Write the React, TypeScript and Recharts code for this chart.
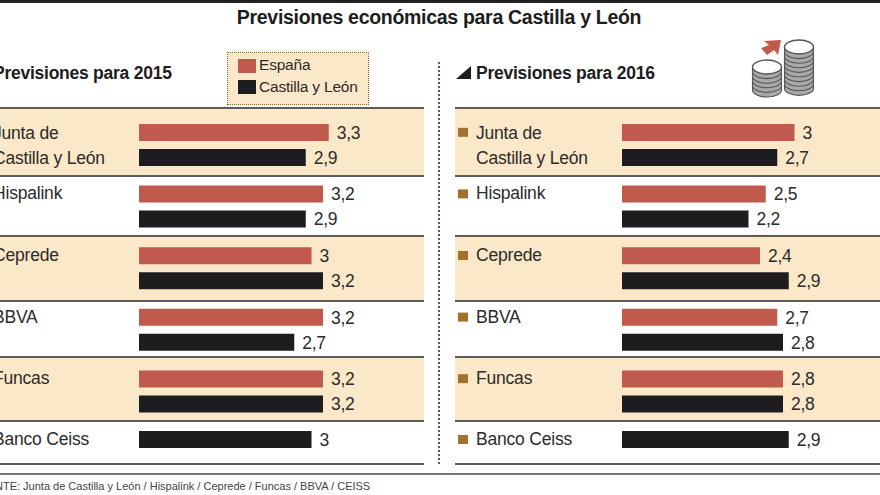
import { BarChart, Bar, XAxis, YAxis, LabelList } from "recharts";

const TITLE = "Previsiones económicas para Castilla y León";
const SOURCE = "FUENTE: Junta de Castilla y León / Hispalink / Ceprede / Funcas / BBVA / CEISS";

const institutions = ["Junta de\nCastilla y León", "Hispalink", "Ceprede", "BBVA", "Funcas"];
const lastInstitution = ["Banco Ceiss"];

const espana2015 = [3.3, 3.2, 3, 3.2, 3.2];
const castilla2015 = [2.9, 2.9, 3.2, 2.7, 3.2];
const ceiss2015 = [3];

const espana2016 = [3, 2.5, 2.4, 2.7, 2.8];
const castilla2016 = [2.7, 2.2, 2.9, 2.8, 2.8];
const ceiss2016 = [2.9];

const RED = "#BF5A4D";
const BLACK = "#1D1D20";
const CREAM = "#FBE8C8";
const INK = "#2B2B2B";
const RULE = "#5C5C5C";
const FONT = "'Liberation Sans', Arial, sans-serif";

const PX_PER_UNIT = 57.5;
const X_MAX = 5;
const PLOT_WIDTH = PX_PER_UNIT * X_MAX;
const AXIS_WIDTH = 167;

// y of the horizontal rules, first band starts at the first one
const ROW_EDGES = [108, 176, 236, 301, 357, 421, 464];

const commaFormat = (v: any) => String(v).replace(".", ",");

function RowTick({ y, payload }: any) {
  const lines = String(payload.value).split("\n");
  const isLast = payload.value === lastInstitution[0];
  const top = isLast ? y : y - 12.5;
  const baseline = lines.length > 1 ? top + 7 : top + 5.5;
  const textProps = { x: 21, fontSize: 17.5, letterSpacing: -0.2, fill: INK, fontFamily: FONT };
  return (
    <g>
      <rect x={3} y={top - 4.5} width={10} height={9} fill="#A2722C" />
      <text y={baseline} {...textProps}>
        {lines[0]}
      </text>
      {lines.length > 1 && (
        <text y={baseline + 25} {...textProps}>
          {lines[1]}
        </text>
      )}
    </g>
  );
}

function valueLabels() {
  return (
    <LabelList
      position="right"
      offset={8}
      formatter={commaFormat}
      style={{ fontSize: 17.5, letterSpacing: -0.3, fill: INK, fontFamily: FONT }}
    />
  );
}

interface PanelProps {
  left: number;
  year: string;
  espana: number[];
  castilla: number[];
  ceiss: number[];
}

function Panel({ left, year, espana, castilla, ceiss }: PanelProps) {
  const rows = institutions.map((name, i) => ({ name, espana: espana[i], castilla: castilla[i] }));
  const lastRow = lastInstitution.map((name, i) => ({ name, castilla: ceiss[i] }));
  const chartWidth = AXIS_WIDTH + PLOT_WIDTH;
  const bandWidth = 452;

  return (
    <div style={{ position: "absolute", left, top: 0, width: chartWidth, height: 495 }}>
      {ROW_EDGES.slice(0, -1).map((edge, i) =>
        i % 2 === 0 ? (
          <div
            key={edge}
            style={{ position: "absolute", left: 0, top: edge, width: bandWidth, height: ROW_EDGES[i + 1] - edge, background: CREAM }}
          />
        ) : null
      )}
      {ROW_EDGES.map((edge) => (
        <div
          key={edge}
          style={{ position: "absolute", left: 0, top: edge - 1, width: bandWidth, height: 2, background: RULE }}
        />
      ))}
      <svg style={{ position: "absolute", left: 0, top: 60 }} width={300} height={30}>
        <path d="M1 19 L16 6 L16 19 Z" fill={BLACK} />
        <text x={21} y={19} fontSize={17.5} letterSpacing={-0.25} fontWeight="bold" fill={BLACK} fontFamily={FONT}>
          {"Previsiones para " + year}
        </text>
      </svg>
      <div style={{ position: "absolute", left: 0, top: 114 }}>
        <BarChart
          width={chartWidth}
          height={308}
          layout="vertical"
          data={rows}
          margin={{ top: 0, right: 0, bottom: 0, left: 0 }}
          barSize={17}
          barGap={8}
        >
          <XAxis type="number" domain={[0, X_MAX]} hide />
          <YAxis type="category" dataKey="name" width={AXIS_WIDTH} axisLine={false} tickLine={false} interval={0} tick={RowTick} />
          <Bar dataKey="espana" name="España" fill={RED} isAnimationActive={false}>
            {valueLabels()}
          </Bar>
          <Bar dataKey="castilla" name="Castilla y León" fill={BLACK} isAnimationActive={false}>
            {valueLabels()}
          </Bar>
        </BarChart>
      </div>
      <div style={{ position: "absolute", left: 0, top: 425 }}>
        <BarChart
          width={chartWidth}
          height={29}
          layout="vertical"
          data={lastRow}
          margin={{ top: 0, right: 0, bottom: 0, left: 0 }}
          barSize={17}
        >
          <XAxis type="number" domain={[0, X_MAX]} hide />
          <YAxis type="category" dataKey="name" width={AXIS_WIDTH} axisLine={false} tickLine={false} interval={0} tick={RowTick} />
          <Bar dataKey="castilla" name="Castilla y León" fill={BLACK} isAnimationActive={false}>
            {valueLabels()}
          </Bar>
        </BarChart>
      </div>
    </div>
  );
}

function CoinStack({ cx, top, count }: { cx: number; top: number; count: number }) {
  const coins = Array.from({ length: count }, (_, i) => count - 1 - i);
  const cy = top + 7;
  return (
    <g>
      {coins.map((i) => (
        <path
          key={i}
          d={`M${cx - 14.5} ${cy + i * 4.6} v4.6 a14.5 7 0 0 0 29 0 v-4.6 Z`}
          fill="#A8A8A8"
          stroke="#555"
          strokeWidth={1.1}
        />
      ))}
      <ellipse cx={cx} cy={cy} rx={14.5} ry={7} fill="#fff" stroke="#555" strokeWidth={1.4} />
    </g>
  );
}

function LegendBox() {
  const items = [
    { label: "España", color: RED },
    { label: "Castilla y León", color: BLACK },
  ];
  return (
    <div
      style={{
        position: "absolute",
        left: 227,
        top: 52,
        width: 142,
        height: 53,
        boxSizing: "border-box",
        background: CREAM,
        border: "1.5px dotted #8A6A35",
        fontFamily: FONT,
        fontSize: 15.5,
        letterSpacing: -0.2,
        color: INK,
      }}
    >
      {items.map((item, i) => (
        <div key={item.label} style={{ position: "absolute", left: 10, top: 4 + i * 21, height: 20, whiteSpace: "nowrap" }}>
          <span style={{ position: "absolute", left: 0, top: 1.5, width: 18, height: 14, background: item.color }} />
          <span style={{ position: "absolute", left: 21, top: i === 0 ? -1 : 0, lineHeight: "18px" }}>{item.label}</span>
        </div>
      ))}
    </div>
  );
}

export default function App() {
  return (
    <div style={{ position: "absolute", left: 0, top: 0, width: 880, height: 495, overflow: "hidden", background: "#fff" }}>
      <div style={{ position: "absolute", left: 0, top: 0, width: 880, height: 3, background: "#222" }} />
      <div
        style={{
          position: "absolute",
          left: 0,
          top: 5,
          width: 878,
          textAlign: "center",
          fontFamily: FONT,
          fontWeight: "bold",
          fontSize: 19.5,
          letterSpacing: -0.3,
          lineHeight: "24px",
          color: BLACK,
        }}
      >
        {TITLE}
      </div>

      <Panel left={-28} year="2015" espana={espana2015} castilla={castilla2015} ceiss={ceiss2015} />
      <Panel left={455} year="2016" espana={espana2016} castilla={castilla2016} ceiss={ceiss2016} />

      <LegendBox />

      <div style={{ position: "absolute", left: 438, top: 62, height: 402, borderLeft: "2px dotted #6E5A35" }} />

      <svg style={{ position: "absolute", left: 745, top: 35 }} width={75} height={65}>
        <CoinStack cx={22} top={25} count={5} />
        <CoinStack cx={54} top={5} count={9} />
        <path d="M36 5 L33 20 L29 15 L22 20 L16 13 L24 10 L19 6 Z" fill={RED} />
      </svg>

      <div style={{ position: "absolute", left: 0, top: 473, width: 880, height: 2, background: "#777" }} />
      <div
        style={{
          position: "absolute",
          left: -27,
          top: 478,
          fontFamily: FONT,
          fontSize: 11,
          lineHeight: "16px",
          color: "#444",
          whiteSpace: "nowrap",
        }}
      >
        {SOURCE}
      </div>
    </div>
  );
}
